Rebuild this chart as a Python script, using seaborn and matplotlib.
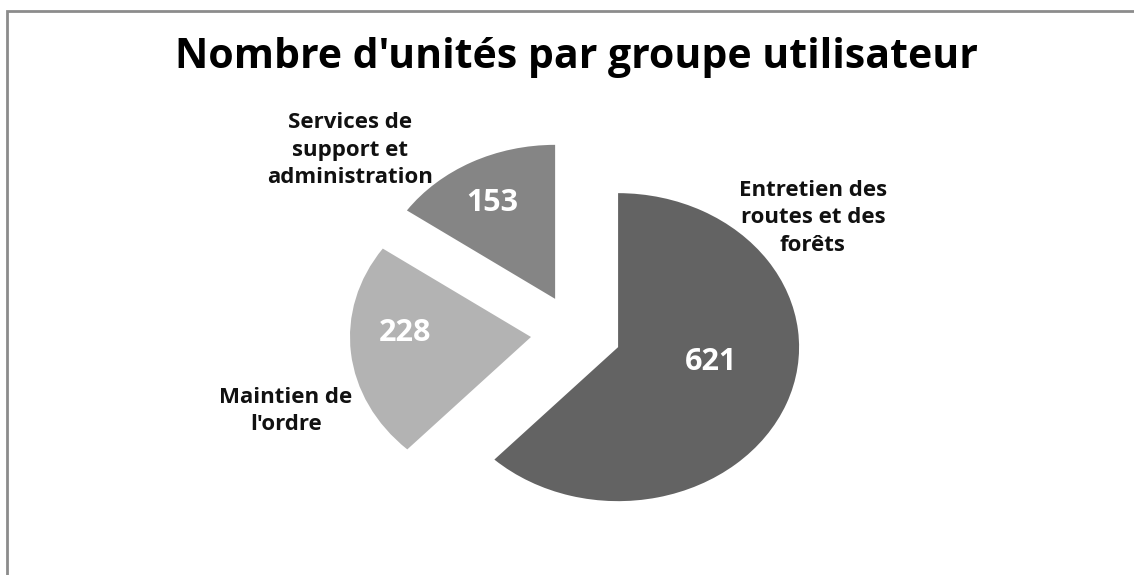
import matplotlib
matplotlib.use("Agg")
import matplotlib.pyplot as plt
import seaborn as sns
from matplotlib.patches import Rectangle

# data, clockwise from 12 o'clock
groups = ["Entretien des\nroutes et des\nforêts",
          "Maintien de\nl'ordre",
          "Services de\nsupport et\nadministration"]
units = [621, 228, 153]
greys = ["#636363", "#b3b3b3", "#858585"]

sns.set_theme(style="white")
plt.rcParams['font.family'] = ['Open Sans', 'DejaVu Sans']

fig = plt.figure(figsize=(11.34, 5.75), dpi=100)
ax = fig.add_axes([0, 0, 1, 1])

wedges, txts, vals = ax.pie(
    units, colors=sns.color_palette(greys), startangle=90, counterclock=False,
    explode=[0.25] * len(units), labels=groups,
    autopct=lambda p: "{:.0f}".format(p * sum(units) / 100),
    wedgeprops=dict(linewidth=0),
    textprops=dict(fontsize=16, fontweight="bold", color="black"))

# the original picture is stretched sideways
ax.set_aspect("auto")
ax.set_xlim(-576 / 181, (1134 - 576) / 181)
ax.set_ylim((333 - 575) / 154, 333 / 154)
ax.axis("off")

# category labels
label_pos = [(1.309, 0.747), (-1.602, -0.506), (-1.249, 1.188)]
for t, (x, y) in zip(txts, label_pos):
    t.set_position((x, y))
    t.set_ha("center")
    t.set_va("center")
    t.set_linespacing(1.42)
    t.set_color("#111111")

# value labels
val_pos = [(0.746, -0.188), (-0.945, 0.0), (-0.464, 0.844)]
for t, (x, y) in zip(vals, val_pos):
    t.set_position((x, y))
    t.set_ha("center")
    t.set_va("center")
    t.set_color("white")
    t.set_fontsize(22)
    t.set_fontweight("bold")

fig.text(0.508, 1 - 57 / 575, "Nombre d'unités par groupe utilisateur",
         ha="center", va="center", fontsize=29.5, fontweight="bold", color="black")

# grey frame, running off the right and bottom edges
fig.patches.append(Rectangle((7 / 1134, -0.1), 1.2, 1.1 - 11 / 575,
                             transform=fig.transFigure, fill=False,
                             edgecolor="#8c8c8c", linewidth=2))

fig.savefig("out.png", dpi=100)
